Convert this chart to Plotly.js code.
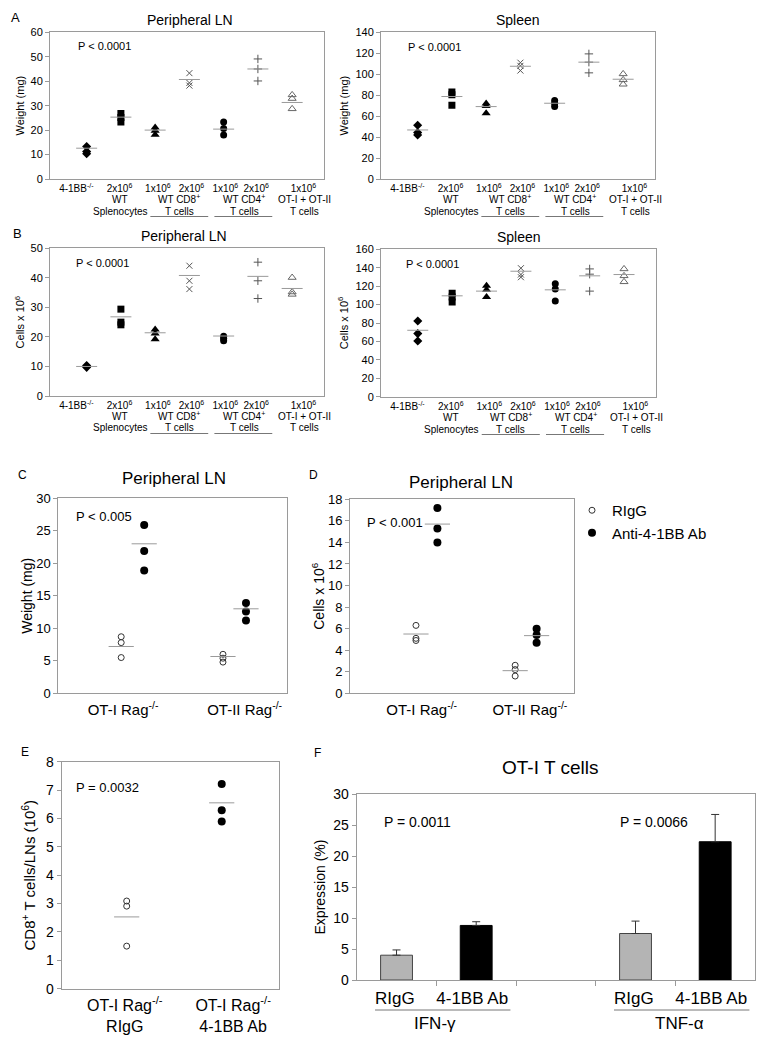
<!DOCTYPE html>
<html><head><meta charset="utf-8">
<script src="https://cdn.plot.ly/plotly-3.0.1.min.js"></script>
<style>html,body{margin:0;padding:0;background:#fff}</style>
</head><body><div id="chart" style="width:770px;height:1050px"></div>
<script>
// ================= DATA =================
// Panels A/B: seven groups of mice
const groupLine1 = ["4-1BB<sup>-/-</sup>","2x10<sup>6</sup>","1x10<sup>6</sup>","2x10<sup>6</sup>","1x10<sup>6</sup>","2x10<sup>6</sup>","1x10<sup>6</sup>"];
const groupLine2 = ["WT","WT CD8<sup>+</sup>","WT CD4<sup>+</sup>","OT-I + OT-II"];
const groupLine3 = ["Splenocytes","T cells","T cells","T cells"];

const lnWeight       = [[13.3,11.2,10.3],[26.8,25.2,23.3],[21.1,19.7,18.1],[43.3,39.3,38.2],[23.3,20.7,18.0],[49.1,45.0,40.1],[34.4,32.9,28.7]];
const lnWeightMean   = [12.6,25.3,20.0,40.7,20.4,45.0,31.3];
const spleenWeight     = [[51.3,44.3,42.0],[83.0,80.5,70.5],[72.0,69.7,62.7],[111.0,108.0,103.5],[74.8,72.3,69.1],[119.4,111.5,101.3],[100.3,94.6,90.4]];
const spleenWeightMean = [46.8,78.7,69.1,107.6,72.3,111.5,95.2];
const lnCells       = [[10.3,10.0,9.7],[29.4,25.0,24.1],[22.5,21.2,19.2],[44.1,39.0,36.2],[20.2,19.5,18.7],[45.3,39.0,33.0],[40.1,35.2,34.4]];
const lnCellsMean   = [10.0,26.8,21.4,40.8,20.3,40.5,36.4];
const spleenCells     = [[82.2,68.5,60.5],[112.4,108.1,102.7],[120.4,116.0,108.1],[139.5,132.6,129.7],[122.5,116.8,103.8],[138.7,133.0,114.6],[138.7,131.2,124.7]];
const spleenCellsMean = [72.1,109.5,114.6,136.2,116.0,131.2,132.6];

// Panels C/D: OT-I Rag-/- and OT-II Rag-/-
const ragGroups = ["OT-I Rag<sup>-/-</sup>","OT-II Rag<sup>-/-</sup>"];
const cRigg = [[8.7,7.8,5.5],[6.0,5.4,4.8]];
const cRiggMean = [7.2,5.66];
const cAnti = [[25.9,21.9,18.9],[13.9,12.6,11.2]];
const cAntiMean = [23.0,13.0];
const dRigg = [[6.3,5.1,4.9],[2.6,2.2,1.6]];
const dRiggMean = [5.5,2.1];
const dAnti = [[17.2,15.3,14.0],[6.0,5.4,4.7]];
const dAntiMean = [15.7,5.35];

// Panel E
const eGroups = ["OT-I Rag<sup>-/-</sup><br>RIgG","OT-I Rag<sup>-/-</sup><br>4-1BB Ab"];
const eValues = [[3.09,2.91,1.50],[7.21,6.29,5.89]];
const eMeans = [2.53,6.55];

// Panel F
const fCytokines = ["IFN-γ","TNF-α"];
const fTreatments = ["RIgG","4-1BB Ab"];
const fRigg = [4.0,7.5];
const fRiggErr = [0.85,2.0];
const fAnti = [8.8,22.3];
const fAntiErr = [0.6,4.4];

// ================= LAYOUT HELPERS =================
const W = 770, H = 1050;
const px = x => x / W;
const py = y => 1 - y / H;
const FONT = '"Liberation Sans", Arial, sans-serif';
const FRAME = '#9a9a9a';

// label positions (axis units) for the text under each panel
const line1Pos = [-0.3,0.96,2.08,3.06,4.05,4.95,6.33];
const line2Pos = [0.96,2.71,4.6,6.37];
const underlines = [[1.86,3.55],[3.73,5.42]];

// panel boxes in pixels
const boxes = {
  1: {x:[50,324],   y:[32.3,179],   range:[0,60],  dtick:10, xr:[-1.07,6.93], tv:line1Pos, tt:groupLine1, tf:10, tl:0},
  2: {x:[381,655],  y:[32.3,179],   range:[0,140], dtick:20, xr:[-1.07,6.93], tv:line1Pos, tt:groupLine1, tf:10, tl:0},
  3: {x:[50,324],   y:[248.3,396],  range:[0,50],  dtick:10, xr:[-1.07,6.93], tv:line1Pos, tt:groupLine1, tf:10, tl:0},
  4: {x:[381,656],  y:[249.3,396.7],range:[0,160], dtick:20, xr:[-1.07,6.93], tv:line1Pos, tt:groupLine1, tf:10, tl:0},
  5: {x:[58.3,287.3], y:[498.3,693.3], range:[0,30], dtick:5, xr:[-0.731,1.519], tv:[-0.095,1.1], tt:ragGroups, tf:15, tl:3},
  6: {x:[350,574],  y:[499.3,693.3], range:[0,18], dtick:2, xr:[-0.773,1.485], tv:[-0.05,1.04], tt:ragGroups, tf:15, tl:3},
  7: {x:[61.7,279.3], y:[761.7,988.7], range:[0,8], dtick:1, xr:[-0.684,1.606], tv:[-0.02,1.12], tt:eGroups, tf:16, tl:2},
  8: {x:[356.7,755], y:[794,980], range:[0,30], dtick:5, xr:[-0.5,4.5], tv:[-0.02,0.95,2.98,3.95], tt:fTreatments.concat(fTreatments), tf:17, tl:3}
};
const tickSize = {1:11,2:11,3:11,4:11,5:13,6:13,7:14,8:14};
const yTitles = {
  1:["Weight (mg)",11,3], 2:["Weight (mg)",11,4],
  3:["Cells x 10<sup>6</sup>",11,3], 4:["Cells x 10<sup>6</sup>",11,4],
  5:["Weight (mg)",14,0], 6:["Cells x 10<sup>6</sup>",14,0],
  7:["CD8<sup>+</sup> T cells/LNs (10<sup>6</sup>)",15,6], 8:["Expression (%)",14,4]
};

const layout = {
  width: W, height: H,
  margin: {l:0, r:0, t:0, b:0},
  paper_bgcolor: '#fff', plot_bgcolor: '#fff',
  font: {family: FONT, color: '#000', size: 12},
  showlegend: true,
  legend: {x: px(572), y: py(494), xanchor: 'left', yanchor: 'top',
           font: {family: FONT, size: 15, color: '#000'}, bgcolor: 'rgba(0,0,0,0)',
           itemwidth: 30, tracegroupgap: 0},
  annotations: [], shapes: []
};

for (const k in boxes) {
  const b = boxes[k];
  const xs = k === '1' ? 'xaxis' : 'xaxis' + k;
  const ys = k === '1' ? 'yaxis' : 'yaxis' + k;
  const idx = k === '1' ? '' : k;
  layout[xs] = {
    domain: [px(b.x[0]), px(b.x[1])], anchor: 'y' + idx, range: b.xr,
    showgrid: false, zeroline: false, showline: true, mirror: true,
    linecolor: FRAME, linewidth: 1,
    tickmode: 'array', tickvals: b.tv, ticktext: b.tt,
    tickfont: {family: FONT, size: b.tf, color: '#000'},
    ticks: 'outside', ticklen: b.tl, tickcolor: 'rgba(0,0,0,0)', tickangle: 0,
    fixedrange: true
  };
  if (k === '8') {
    layout[xs].minor = {tickvals: [0.5,1.5,2.5,3.5], ticks: 'outside', ticklen: 5, tickcolor: FRAME, showgrid: false};
  }
  layout[ys] = {
    domain: [py(b.y[1]), py(b.y[0])], anchor: 'x' + idx, range: b.range, dtick: b.dtick,
    showgrid: false, zeroline: false, showline: true, mirror: true,
    linecolor: FRAME, linewidth: 1, ticks: 'outside', ticklen: 4, tickcolor: FRAME,
    tickfont: {family: FONT, size: tickSize[k], color: '#000'},
    title: {text: yTitles[k][0], font: {family: FONT, size: yTitles[k][1], color: '#000'}, standoff: yTitles[k][2]},
    fixedrange: true
  };
}

function ann(text, x, y, size, opts) {
  layout.annotations.push(Object.assign({
    text: text, x: px(x), y: py(y), xref: 'paper', yref: 'paper',
    showarrow: false, font: {family: FONT, size: size, color: '#000'},
    xanchor: 'center', yanchor: 'middle'
  }, opts || {}));
}

// Titles and panel letters
ann('Peripheral LN', 190, 20, 14);
ann('Spleen', 518, 20, 14);
ann('Peripheral LN', 184, 236, 14);
ann('Spleen', 519, 237, 14);
ann('Peripheral LN', 174, 478, 17);
ann('Peripheral LN', 461, 483, 17);
ann('OT-I T cells', 550, 767, 19);
ann('A', 15, 18, 13); ann('B', 17, 233, 13);
ann('C', 22, 475, 12); ann('D', 313, 475, 12);
ann('E', 25, 752, 12); ann('F', 317, 753, 12);

// P values (left-anchored)
const pv = [['P < 0.0001',76,46.3,11],['P < 0.0001',406,46.7,11],['P < 0.0001',74,262.7,11],['P < 0.0001',404,264,11],
            ['P < 0.005',74,516,13],['P < 0.001',365,522.7,13],['P = 0.0032',74,787.3,13],
            ['P = 0.0011',381.7,821.7,14],['P = 0.0066',617.7,821.7,14]];
pv.forEach(p => ann(p[0], p[1], p[2], p[3], {xanchor:'left'}));

// ================= TRACES =================
const traces = [];
const groupMarkers = [
  {symbol:'diamond', size:7, color:'#000'},
  {symbol:'square', size:7, color:'#000'},
  {symbol:'triangle-up', size:8, color:'#000'},
  {symbol:'x-thin-open', size:6, color:'#555', line:{width:1, color:'#555'}},
  {symbol:'circle', size:7, color:'#000'},
  {symbol:'cross-thin-open', size:6, color:'#555', line:{width:1, color:'#555'}},
  {symbol:'triangle-up-open', size:7, color:'#666', line:{width:1, color:'#666'}}
];
const meanMarker = (size) => ({symbol:'line-ew-open', size:size, color:'#9a9a9a', line:{width:1, color:'#9a9a9a'}});

function groupPanel(vals, means, axIdx) {
  const xa = 'x' + (axIdx === 1 ? '' : axIdx), ya = 'y' + (axIdx === 1 ? '' : axIdx);
  vals.forEach((v, i) => {
    traces.push({type:'scatter', mode:'markers', x: v.map(() => i), y: v,
      xaxis: xa, yaxis: ya, marker: groupMarkers[i], showlegend: false, hoverinfo: 'y'});
  });
  traces.push({type:'scatter', mode:'markers', x: means.map((m, i) => i), y: means,
    xaxis: xa, yaxis: ya, marker: meanMarker(15), showlegend: false, hoverinfo: 'y'});
}
groupPanel(lnWeight, lnWeightMean, 1);
groupPanel(spleenWeight, spleenWeightMean, 2);
groupPanel(lnCells, lnCellsMean, 3);
groupPanel(spleenCells, spleenCellsMean, 4);

// second/third label lines and underlines under A/B panels
[[1,187],[2,187],[3,404],[4,405]].forEach(([k, y0]) => {
  const xr = 'x' + (k === 1 ? '' : k);
  groupLine2.forEach((t, i) => layout.annotations.push({text:t, x:line2Pos[i], y:py(y0+12), xref:xr, yref:'paper',
    showarrow:false, font:{family:FONT,size:10,color:'#000'}, xanchor:'center', yanchor:'middle'}));
  groupLine3.forEach((t, i) => layout.annotations.push({text:t, x:line2Pos[i], y:py(y0+24), xref:xr, yref:'paper',
    showarrow:false, font:{family:FONT,size:10,color:'#000'}, xanchor:'center', yanchor:'middle'}));
  underlines.forEach(u => layout.shapes.push({type:'line', xref:xr, yref:'paper', x0:u[0], x1:u[1],
    y0:py(y0+29.5), y1:py(y0+29.5), line:{color:'#777', width:1}}));
});

// C / D panels
const openCircle = {symbol:'circle-open', size:6, color:'#333', line:{width:1, color:'#333'}};
const fullCircle = {symbol:'circle', size:8, color:'#000'};
function ragPanel(rigg, riggMean, anti, antiMean, axIdx, off, legend) {
  const xa = 'x' + axIdx, ya = 'y' + axIdx;
  const rx = [], ry = [], ax = [], ay = [];
  rigg.forEach((v, g) => v.forEach(val => { rx.push(g - off); ry.push(val); }));
  anti.forEach((v, g) => v.forEach(val => { ax.push(g + off); ay.push(val); }));
  traces.push({type:'scatter', mode:'markers', name:'RIgG', x:rx, y:ry, xaxis:xa, yaxis:ya,
    marker: openCircle, showlegend: legend, legendrank: 1});
  traces.push({type:'scatter', mode:'markers', name:'Anti-4-1BB Ab', x:ax, y:ay, xaxis:xa, yaxis:ya,
    marker: fullCircle, showlegend: legend, legendrank: 2});
  traces.push({type:'scatter', mode:'markers', x: riggMean.map((m, g) => g - off).concat(antiMean.map((m, g) => g + off)),
    y: riggMean.concat(antiMean), xaxis:xa, yaxis:ya, marker: meanMarker(18), showlegend:false});
}
ragPanel(cRigg, cRiggMean, cAnti, cAntiMean, 5, 0.113, true);
ragPanel(dRigg, dRiggMean, dAnti, dAntiMean, 6, 0.108, false);

// E panel
traces.push({type:'scatter', mode:'markers', x: eValues[0].map(() => 0), y: eValues[0], xaxis:'x7', yaxis:'y7',
  marker: openCircle, showlegend:false});
traces.push({type:'scatter', mode:'markers', x: eValues[1].map(() => 1), y: eValues[1], xaxis:'x7', yaxis:'y7',
  marker: fullCircle, showlegend:false});
traces.push({type:'scatter', mode:'markers', x: eMeans.map((m, i) => i), y: eMeans, xaxis:'x7', yaxis:'y7',
  marker: meanMarker(18), showlegend:false});

// F panel (bars)
traces.push({type:'bar', x: fRigg.map((v, g) => g * 3), y: fRigg, xaxis:'x8', yaxis:'y8', width:0.4,
  marker:{color:'#b4b4b4', line:{color:'#444', width:1}}, showlegend:false,
  error_y:{type:'data', symmetric:false, array:fRiggErr, arrayminus:fRigg.map(() => 0), color:'#333', thickness:1, width:4}});
traces.push({type:'bar', x: fAnti.map((v, g) => g * 3 + 1), y: fAnti, xaxis:'x8', yaxis:'y8', width:0.4,
  marker:{color:'#000', line:{color:'#000', width:1}}, showlegend:false,
  error_y:{type:'data', symmetric:false, array:fAntiErr, arrayminus:fAnti.map(() => 0), color:'#333', thickness:1, width:4}});
layout.barmode = 'overlay';
fCytokines.forEach((c, g) => {
  layout.shapes.push({type:'line', xref:'x8', yref:'paper', x0:g * 3 - 0.27, x1:g * 3 + 1.43,
    y0:py(1010), y1:py(1010), line:{color:'#777', width:1}});
  layout.annotations.push({text:c, x:g * 3 + 0.5 + (g === 1 ? 0.05 : -0.02), y:py(1023), xref:'x8', yref:'paper',
    showarrow:false, font:{family:FONT,size:17,color:'#000'}, xanchor:'center', yanchor:'middle'});
});

Plotly.newPlot('chart', traces, layout, {displayModeBar: false});
</script>
</body></html>
